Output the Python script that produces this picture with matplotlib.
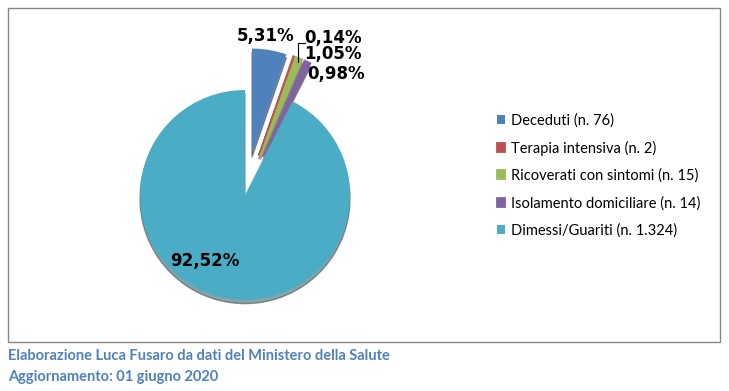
import matplotlib.pyplot as plt
from matplotlib.patches import Rectangle

# data, updated 01 June 2020
labels = ["Deceduti", "Terapia intensiva", "Ricoverati con sintomi",
          "Isolamento domiciliare", "Dimessi/Guariti"]
counts = [76, 2, 15, 14, 1324]
count_txt = ["76", "2", "15", "14", "1.324"]
colors = ["#4F81BD", "#C0504D", "#9BBB59", "#8064A2", "#4BACC6"]
explode = [0.4, 0.4, 0.4, 0.4, 0.0]

plt.rcParams['font.family'] = ['Lato', 'DejaVu Sans']

W, H = 729, 391
fig = plt.figure(figsize=(W / 100, H / 100), dpi=100)

# chart border
fig.patches.append(Rectangle((8 / W, 1 - 342 / H), 712 / W, 334 / H,
                             transform=fig.transFigure, fill=False,
                             edgecolor="#868686", linewidth=1))

# pie axes: 1 unit = 105 px, centre at (245, 195) px
ax = fig.add_axes([87.5 / W, (H - 195 - 157.5) / H, 315 / W, 315 / H])
wedges, _ = ax.pie(counts, colors=colors, explode=explode, startangle=90,
                   counterclock=False, radius=1.0,
                   shadow=dict(ox=0.0, oy=-0.025, shade=0.6))
# thicken the thin slices a little (like the excel bevel)
for w, c in zip(wedges[1:4], colors[1:4]):
    w.set_edgecolor(c)
    w.set_linewidth(1.3)
ax.set_xlim(-1.5, 1.5)
ax.set_ylim(-1.5, 1.5)
ax.set_aspect("equal")
ax.axis("off")

total = sum(counts)
pct = [f"{c / total * 100:.2f}".replace(".", ",") + "%" for c in counts]

# label positions (axes data units)
lab_pos = [(0.20, 1.51), (0.84, 1.50), (0.84, 1.34), (0.87, 1.15), (-0.38, -0.63)]
for p, (x, y) in zip(pct, lab_pos):
    ax.text(x, y, p, ha="center", va="center", fontsize=12, fontweight="bold",
            color="black", family=["DejaVu Sans"])

# leader line for the tiny slice
ax.annotate("", xy=(0.50, 1.27), xytext=(0.57, 1.45),
            arrowprops=dict(arrowstyle="-", color="black", lw=0.8,
                            shrinkA=0, shrinkB=0,
                            connectionstyle="angle,angleA=0,angleB=90,rad=0"))

handles = wedges
leg_labels = [f"{l} (n. {t})" for l, t in zip(labels, count_txt)]
fig.legend(handles, leg_labels, loc="upper left",
           bbox_to_anchor=(497 / W, 1 - 113 / H), frameon=False,
           borderaxespad=0, borderpad=0, handlelength=0.55, handleheight=0.55,
           handletextpad=0.4, labelspacing=0.9, fontsize=10.5)

fig.text(8 / W, 1 - 356 / H, "Elaborazione Luca Fusaro da dati del Ministero della Salute",
         color="#4F81BD", fontsize=10.5, fontweight="bold", va="center")
fig.text(8 / W, 1 - 377 / H, "Aggiornamento: 01 giugno 2020",
         color="#4F81BD", fontsize=10.5, fontweight="bold", va="center")

fig.savefig("out.png", dpi=100)
